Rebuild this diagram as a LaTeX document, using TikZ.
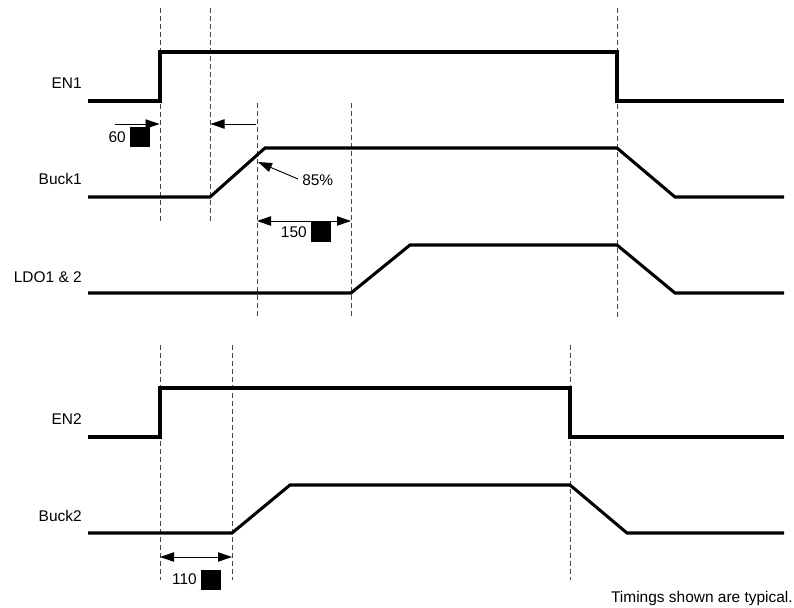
\documentclass[tikz,border=0pt]{standalone}
\usepackage{fontspec}
\setmainfont{Liberation Sans}
\usetikzlibrary{arrows.meta}
\definecolor{guidegray}{RGB}{70,70,70}

\begin{document}
\begin{tikzpicture}[x=0.75pt, y=-0.75pt,
    signal/.style={line width=2.3pt, line join=miter},
    guide/.style={guidegray, line width=0.7pt, dash pattern=on 3.8pt off 2.2pt},
    dimarrow/.style={line width=0.7pt, -{Triangle[length=10.5pt,width=7pt]}},
    dimboth/.style={line width=0.7pt, {Triangle[length=10.5pt,width=7pt]}-{Triangle[length=10.5pt,width=7pt]}},
    blk/.style={fill=black, inner sep=0pt, minimum width=15pt, minimum height=14.5pt},
    lbl/.style={font=\fontsize{11.6}{14}\selectfont, inner sep=0pt}]
    \useasboundingbox (0,0) rectangle (794,608);

    % Guide lines, upper group
    \draw[guide] (160,8) -- (160,222);
    \draw[guide] (210,8) -- (210,222);
    \draw[guide] (257,103) -- (257,318);
    \draw[guide] (351,103) -- (351,318);
    \draw[guide] (617,8) -- (617,318);

    % Guide lines, lower group
    \draw[guide] (160,345) -- (160,580);
    \draw[guide] (232,345) -- (232,580);
    \draw[guide] (570,345) -- (570,580);

    % Signal names
    \node[lbl, anchor=east] (en1) at (82,83) {EN1};
    \node[lbl, anchor=east] (buck1) at (82,179) {Buck1};
    \node[lbl, anchor=east] (ldo) at (82,277) {LDO1 \& 2};
    \node[lbl, anchor=east] (en2) at (82,419) {EN2};
    \node[lbl, anchor=east] (buck2) at (82,516) {Buck2};

    % EN1
    \draw[signal] (88,101) -- (160,101) -- (160,52) -- (617,52) -- (617,101) -- (784,101);
    % Buck1
    \draw[signal] (88,197) -- (210,197) -- (265,148) -- (617,148) -- (675,197) -- (784,197);
    % LDO1 & 2
    \draw[signal] (88,293) -- (351,293) -- (410,245) -- (617,245) -- (675,293) -- (784,293);
    % EN2
    \draw[signal] (88,437) -- (160,437) -- (160,388) -- (570,388) -- (570,437) -- (784,437);
    % Buck2
    \draw[signal] (88,533) -- (232,533) -- (290,485) -- (570,485) -- (627,533) -- (784,533);

    % Delay 60
    \coordinate (d60a) at (115,124);
    \coordinate (d60b) at (159.5,124);
    \draw[dimarrow] (d60a) -- (d60b);
    \node[lbl, anchor=east] (t60) at (126,137) {60};
    \node[blk, anchor=north west] (s60) at (130,127) {};
    \coordinate (dlefta) at (256,124);
    \coordinate (dleftb) at (210.5,124);
    \draw[dimarrow] (dlefta) -- (dleftb);

    % 85% threshold
    \node[lbl, anchor=west] (t85) at (302,180) {85\%};
    \coordinate (p85) at (258,162);
    \draw[dimarrow] (t85.west) ++(-4,-1) -- (p85);

    % Delay 150
    \coordinate (d150a) at (257,221);
    \coordinate (d150b) at (351,221);
    \draw[dimboth] (d150a) -- (d150b);
    \node[lbl, anchor=east] (t150) at (307,232) {150};
    \node[blk, anchor=north west] (s150) at (311,222) {};

    % Delay 110
    \coordinate (d110a) at (160,557);
    \coordinate (d110b) at (232,557);
    \draw[dimboth] (d110a) -- (d110b);
    \node[lbl, anchor=east] (t110) at (197,579) {110};
    \node[blk, anchor=north west] (s110) at (201,570) {};

    % Note
    \node[lbl, anchor=east] (note) at (793,598) {Timings shown are typical.};
\end{tikzpicture}
\end{document}
